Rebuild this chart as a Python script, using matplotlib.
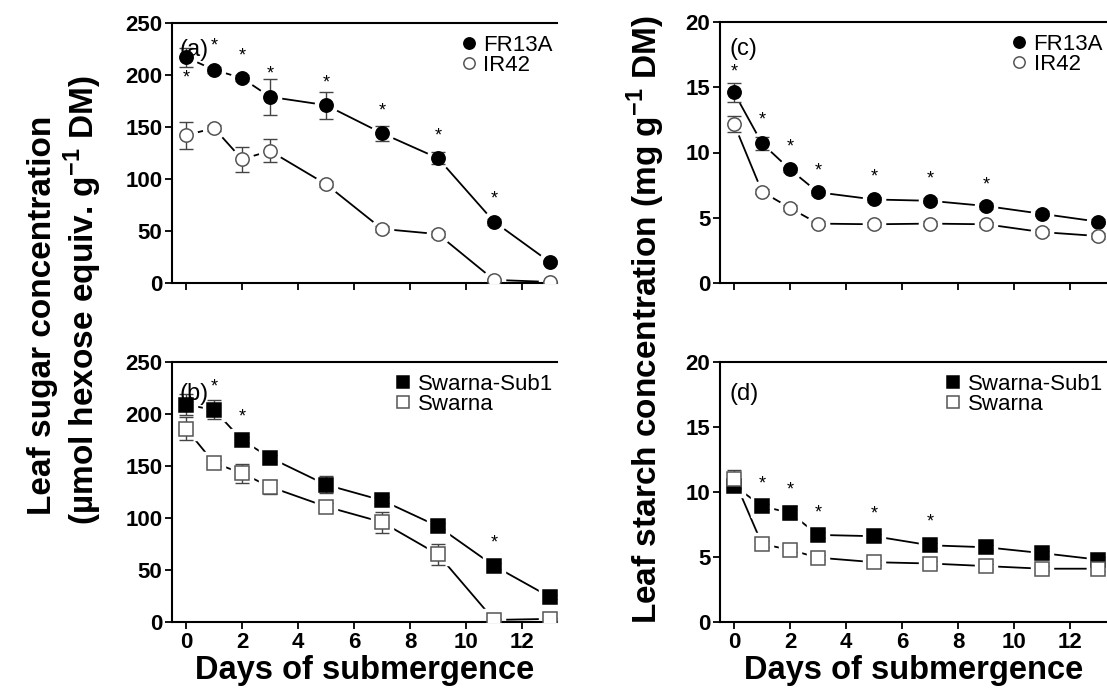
import matplotlib
matplotlib.use("Agg")
import matplotlib.pyplot as plt
import numpy as np

plt.rcParams['font.family'] = ['Liberation Sans', 'DejaVu Sans']
plt.rcParams['mathtext.fontset'] = 'custom'
plt.rcParams['mathtext.rm'] = 'Liberation Sans:bold'
plt.rcParams['mathtext.bf'] = 'Liberation Sans:bold'

days = [0, 1, 2, 3, 5, 7, 9, 11, 13]

# (a) leaf sugar, FR13A vs IR42
sugar_fr13a = [217, 205, 197, 179, 171, 144, 120, 59, 20]
sugar_fr13a_err = [9, 3, 3, 17, 13, 7, 6, 3, 2]
sugar_ir42 = [142, 149, 119, 127, 95, 52, 47, 3, 1]
sugar_ir42_err = [13, 3, 12, 11, 3, 3, 3, 1, 1]
stars_a_x = [0, 1, 2, 3, 5, 7, 9, 11]
stars_a_y = [197, 228, 218, 201, 192, 165, 141, 81]

# (b) leaf sugar, Swarna-Sub1 vs Swarna
sugar_sub1 = [209, 204, 175, 158, 132, 117, 92, 54, 24]
sugar_sub1_err = [10, 9, 3, 3, 8, 3, 3, 3, 2]
sugar_swarna = [186, 153, 143, 130, 111, 96, 65, 2, 3]
sugar_swarna_err = [11, 3, 9, 7, 3, 10, 10, 1, 1]
stars_b_x = [1, 2, 11]
stars_b_y = [226, 197, 76]

# (c) leaf starch, FR13A vs IR42
starch_fr13a = [14.6, 10.7, 8.7, 6.95, 6.4, 6.3, 5.9, 5.3, 4.7]
starch_fr13a_err = [0.7, 0.5, 0.2, 0.2, 0.2, 0.2, 0.2, 0.2, 0.2]
starch_ir42 = [12.2, 7.0, 5.75, 4.55, 4.5, 4.55, 4.5, 3.9, 3.6]
starch_ir42_err = [0.6, 0.2, 0.2, 0.2, 0.2, 0.2, 0.2, 0.2, 0.2]
stars_c_x = [0, 1, 2, 3, 5, 7, 9]
stars_c_y = [16.2, 12.5, 10.4, 8.6, 8.1, 8.0, 7.5]

# (d) leaf starch, Swarna-Sub1 vs Swarna
starch_sub1 = [10.5, 8.9, 8.4, 6.7, 6.6, 5.9, 5.75, 5.3, 4.8]
starch_sub1_err = [0.3, 0.2, 0.5, 0.2, 0.2, 0.2, 0.2, 0.2, 0.2]
starch_swarna = [11.0, 6.0, 5.55, 4.95, 4.6, 4.5, 4.3, 4.1, 4.1]
starch_swarna_err = [0.7, 0.2, 0.2, 0.2, 0.2, 0.2, 0.2, 0.2, 0.2]
stars_d_x = [1, 2, 3, 5, 7]
stars_d_y = [10.6, 10.15, 8.4, 8.3, 7.7]

W, H = 1107, 692
fig = plt.figure(figsize=(W / 100, H / 100), dpi=100)


def px_axes(left, right, top, bottom):
    return fig.add_axes([left / W, 1 - bottom / H, (right - left) / W, (bottom - top) / H])


def series(ax, y, err, marker, filled, label):
    face = 'black' if filled else 'white'
    edge = 'black' if filled else '#555555'
    ax.plot(days, y, '-', color='black', lw=1.3, zorder=1)
    # white halo so the line stops short of each marker
    ax.plot(days, y, linestyle='none', marker=marker, ms=16, mfc='white', mec='white', zorder=2)
    ax.errorbar(days, y, yerr=err, fmt='none', ecolor='#444444', elinewidth=1.0,
                capsize=5, capthick=1.0, zorder=3)
    ax.plot(days, y, linestyle='none', marker=marker, ms=9.6, mfc=face, mec=edge,
            mew=1.1, zorder=4, label=label)


def style(ax, ymax, yticks, xmax, bottom_row):
    ax.set_xlim(-0.5, xmax)
    ax.set_ylim(0, ymax)
    ax.set_yticks(yticks)
    ax.set_xticks(range(0, 13, 2))
    ax.spines['right'].set_visible(False)
    for s in ['left', 'bottom', 'top']:
        ax.spines[s].set_linewidth(1.5)
    ax.tick_params(direction='out', length=5, width=1.3, labelsize=16, pad=2)
    for lab in ax.get_yticklabels() + ax.get_xticklabels():
        lab.set_fontweight('bold')
    if bottom_row:
        ax.set_xlabel('Days of submergence', fontsize=23.5, fontweight='bold', labelpad=2)
    else:
        ax.tick_params(axis='x', labelbottom=False)


def stars(ax, xs, ys):
    for x, y in zip(xs, ys):
        ax.text(x, y, '*', ha='center', va='center', fontsize=13, zorder=5)


def legend(ax):
    ax.legend(loc='upper right', bbox_to_anchor=(1.03, 1.015), frameon=False, fontsize=16,
              handletextpad=0.15, labelspacing=-0.05, handlelength=1.0, borderaxespad=0.3,
              markerscale=0.85)


ax_a = px_axes(172, 557, 23, 283)
series(ax_a, sugar_fr13a, sugar_fr13a_err, 'o', True, 'FR13A')
series(ax_a, sugar_ir42, sugar_ir42_err, 'o', False, 'IR42')
stars(ax_a, stars_a_x, stars_a_y)
style(ax_a, 250, range(0, 251, 50), 13.25, False)
legend(ax_a)
ax_a.text(0.02, 0.94, '(a)', transform=ax_a.transAxes, fontsize=17, va='top')

ax_b = px_axes(172, 557, 362, 622)
series(ax_b, sugar_sub1, sugar_sub1_err, 's', True, 'Swarna-Sub1')
series(ax_b, sugar_swarna, sugar_swarna_err, 's', False, 'Swarna')
stars(ax_b, stars_b_x, stars_b_y)
style(ax_b, 250, range(0, 251, 50), 13.25, True)
legend(ax_b)
ax_b.text(0.02, 0.92, '(b)', transform=ax_b.transAxes, fontsize=17, va='top')

ax_c = px_axes(720, 1107, 22, 283)
series(ax_c, starch_fr13a, starch_fr13a_err, 'o', True, 'FR13A')
series(ax_c, starch_ir42, starch_ir42_err, 'o', False, 'IR42')
stars(ax_c, stars_c_x, stars_c_y)
style(ax_c, 20, range(0, 21, 5), 13.32, False)
legend(ax_c)
ax_c.text(0.025, 0.94, '(c)', transform=ax_c.transAxes, fontsize=17, va='top')

ax_d = px_axes(720, 1107, 362, 622)
series(ax_d, starch_sub1, starch_sub1_err, 's', True, 'Swarna-Sub1')
series(ax_d, starch_swarna, starch_swarna_err, 's', False, 'Swarna')
stars(ax_d, stars_d_x, stars_d_y)
style(ax_d, 20, range(0, 21, 5), 13.32, True)
legend(ax_d)
ax_d.text(0.025, 0.92, '(d)', transform=ax_d.transAxes, fontsize=17, va='top')

fig.text(43 / W, 1 - 315 / H, 'Leaf sugar concentration', rotation=90, ha='center', va='center',
         fontsize=24, fontweight='bold')
fig.text(83 / W, 1 - 300 / H, r'(µmol hexose equiv. g$^{-1}$ DM)', rotation=90,
         ha='center', va='center', fontsize=24, fontweight='bold')
fig.text(646 / W, 1 - 320 / H, r'Leaf starch concentration (mg g$^{-1}$ DM)', rotation=90,
         ha='center', va='center', fontsize=24, fontweight='bold')

fig.savefig('out.png', dpi=100)
